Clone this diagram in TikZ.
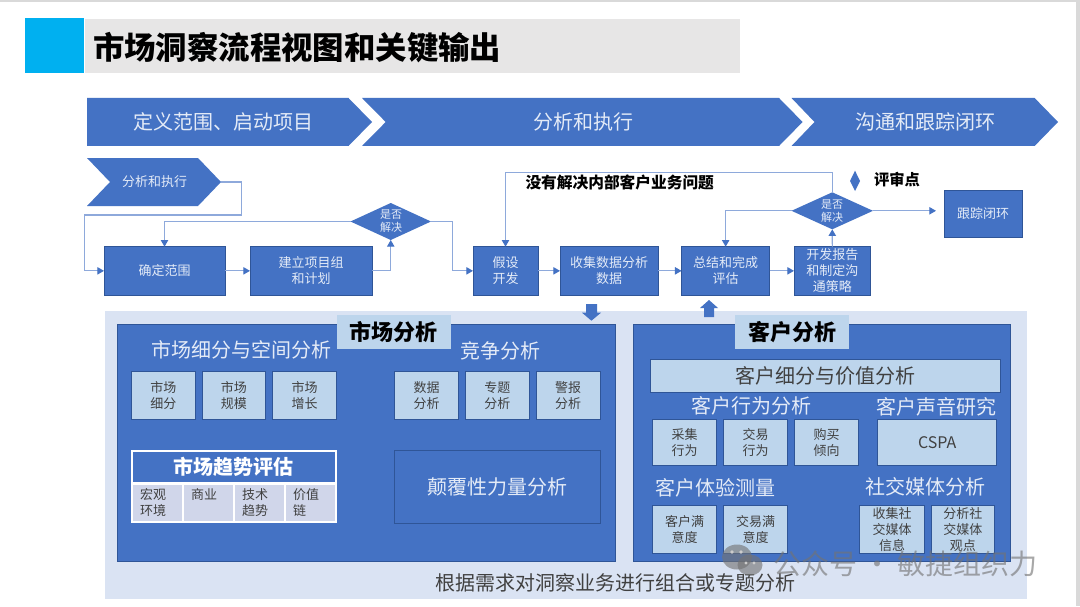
\documentclass[tikz,border=0pt]{standalone}
\usepackage{fontspec}
\setmainfont{Noto Sans CJK SC}
\usetikzlibrary{shapes.geometric,arrows.meta}
\definecolor{mainblue}{HTML}{4472C4}
\definecolor{edgeblue}{HTML}{2F5597}
\definecolor{linkblue}{HTML}{8EA9DB}
\definecolor{paleblue}{HTML}{BDD5EC}
\definecolor{panelbg}{HTML}{DAE3F3}
\definecolor{cellfill}{HTML}{D0D6EA}
\definecolor{softwhite}{HTML}{E4EBF7}
\definecolor{darktext}{HTML}{404040}
\definecolor{skyfill}{HTML}{00B0F0}
\definecolor{titlegray}{HTML}{E7E6E6}
\newcommand{\fsz}[2]{\fontsize{\the\dimexpr #1pt*3/4\relax}{\the\dimexpr #2pt*3/4\relax}\selectfont}
\newcommand{\bx}[7]{%
  \pgfmathsetmacro\bxw{(#4-#2)*0.75}%
  \pgfmathsetmacro\bxh{(#5-#3)*0.75}%
  \node[#6,minimum width=\bxw pt,minimum height=\bxh pt] (#1) at ({(#2+#4)/2},{(#3+#5)/2}) {#7};}
\tikzset{
  x=0.75pt,y=-0.75pt,
  base/.style={inner sep=0pt,outer sep=0pt,align=center},
  flowbox/.style={base,draw=edgeblue,line width=0.65pt,fill=mainblue,text=softwhite,font=\fsz{13}{16}},
  lightbox/.style={base,draw=edgeblue,line width=0.65pt,fill=paleblue,text=darktext,font=\fsz{13}{16.3}},
  tagbox/.style={base,fill=paleblue,text=black,font=\bfseries\fsz{22}{24}},
  heading/.style={base,text=softwhite,font=\fsz{20}{22}},
  banner/.style={base,text=softwhite,font=\fsz{20}{22}},
  celltext/.style={base,text=darktext,font=\fsz{13}{16},align=left,anchor=west},
  decitext/.style={base,text=softwhite,font=\fsz{11}{13}},
  deci/.style={base,diamond,aspect=2.17,fill=mainblue,draw=none},
  conn/.style={draw=linkblue,line width=0.9pt},
  arr/.style={conn,-{Triangle[width=5.5pt,length=5pt,color=mainblue]}},
  chev/.style={fill=mainblue,draw=none},
}
\begin{document}
\begin{tikzpicture}
\useasboundingbox (0,0) rectangle (1080,606);
\fill[white] (0,0) rectangle (1080,606);
\fill[black!15] (0,0) rectangle (1080,2);
\fill[black!15] (1076,0) rectangle (1080,606);
% title
\bx{tsq}{24.5}{18.5}{84}{73}{base,fill=skyfill}{}
\bx{tbar}{85}{19}{740}{73}{base,fill=titlegray}{}
\node[base,anchor=west,text=black,font=\bfseries\fsz{31.4}{33}] (title) at (93,47.5) {市场洞察流程视图和关键输出};
% phase chevrons
\fill[chev] (87,98) -- (348.5,98) -- (372,122) -- (348.5,146) -- (87,146) -- cycle;
\fill[chev] (362,98) -- (779,98) -- (802.6,122) -- (779,146) -- (362,146) -- (385.7,122) -- cycle;
\fill[chev] (791.5,98) -- (1034.6,98) -- (1058,122) -- (1034.6,146) -- (791.5,146) -- (814.5,122) -- cycle;
\node[banner] (p1) at (223.5,122) {定义范围、启动项目};
\node[banner] (p2) at (583,122) {分析和执行};
\node[banner] (p3) at (925,122) {沟通和跟踪闭环};
% small chevron
\fill[chev] (87,158) -- (198,158) -- (221,182) -- (198,206) -- (87,206) -- (110,182) -- cycle;
\node[base,text=softwhite,font=\fsz{13}{16}] (sc) at (154.5,182) {分析和执行};
\coordinate (chevtip) at (221,182);
% flow boxes
\bx{a}{104}{246.7}{225}{295}{flowbox}{确定范围}
\bx{b}{250}{246.7}{372}{295}{flowbox}{建立项目组\\和计划}
\bx{c}{473}{246.7}{538}{295}{flowbox}{假设\\开发}
\bx{d}{560}{246.7}{658.3}{295}{flowbox}{收集数据分析\\数据}
\bx{e}{681.6}{246.7}{769.7}{295}{flowbox}{总结和完成\\评估}
\bx{f}{794}{246.7}{870.7}{295}{flowbox}{开发报告\\和制定沟\\通策略}
\bx{g}{944}{190}{1022}{237.7}{flowbox}{跟踪闭环}
% diamonds
\bx{d1}{350.5}{203}{431}{240}{deci}{}
\node[decitext] (d1t) at (391,221.5) {是否\\解决};
\bx{d2}{791.5}{192.3}{873}{229.3}{deci}{}
\node[decitext] (d2t) at (832.2,210.8) {是否\\解决};
% review key
\fill[mainblue] (855,170.7) -- (860,181) -- (855,191) -- (850,181) -- cycle;
\node[base,anchor=west,text=black,font=\bfseries\fsz{15.3}{17}] (rev) at (874,180) {评审点};
\node[base,anchor=west,text=black,font=\bfseries\fsz{15.7}{17}] (note) at (525.5,182) {没有解决内部客户业务问题};
% connectors
\coordinate (r1) at (241.7,215);
\coordinate (r2) at (84.4,215);
\coordinate (r3) at (452.5,240);
\coordinate (r4) at (505.5,172.7);
\draw[arr] (chevtip) -| (r1) -- (r2) |- (a.west);
\draw[arr] (a.east) -- (b.west);
\draw[arr] (b.east) -| (d1.south);
\draw[arr] (d1.west) -| (a.north);
\draw[arr] (d1.east) -| (r3) |- (c.west);
\draw[arr] (c.east) -- (d.west);
\draw[arr] (d.east) -- (e.west);
\draw[arr] (e.east) -- (f.west);
\draw[arr] (f.north) -- (d2.south);
\draw[arr] (d2.west) -| (e.north);
\draw[arr] (d2.north) |- (r4) -- (c.north);
\draw[arr,shorten >=6pt] (d2.east) -- (d2.east -| g.west);
% analysis background
\bx{bg}{104.7}{311}{1026.7}{598.7}{base,fill=panelbg}{}
% block arrows
\fill[mainblue] (586,304) -- (597,304) -- (597,312.7) -- (601,312.7) -- (591.4,320.7) -- (582,312.7) -- (586,312.7) -- cycle;
\fill[mainblue] (704,317) -- (714,317) -- (714,308) -- (718,308) -- (709,300) -- (700,308) -- (704,308) -- cycle;
% left panel
\bx{lp}{117}{324.3}{615.5}{561.7}{base,draw=edgeblue,line width=0.65pt,fill=mainblue}{}
\bx{lt}{336.6}{315}{451}{349}{tagbox}{市场分析}
\node[heading] (h1) at (241,350) {市场细分与空间分析};
\node[heading] (h2) at (500,351) {竞争分析};
\bx{m1}{131.4}{371.7}{195.3}{419}{lightbox}{市场\\细分}
\bx{m2}{202}{371.7}{265.6}{419}{lightbox}{市场\\规模}
\bx{m3}{272.8}{371.7}{336.6}{419}{lightbox}{市场\\增长}
\bx{c1}{394.8}{371.7}{458.4}{419}{lightbox}{数据\\分析}
\bx{c2}{465.4}{371.7}{529.3}{419}{lightbox}{专题\\分析}
\bx{c3}{536.4}{371.7}{600}{419}{lightbox}{警报\\分析}
% trend table
\bx{tb}{131}{450}{336.6}{522.7}{base,fill=white}{}
\bx{th}{133}{452}{334.6}{482}{base,fill=mainblue,text=white,font=\bfseries\fsz{20}{22}}{市场趋势评估}
\fill[cellfill] (133,484.5) rectangle (181.5,521);
\fill[cellfill] (183.5,484.5) rectangle (232.5,521);
\fill[cellfill] (234.5,484.5) rectangle (283.6,521);
\fill[cellfill] (285.6,484.5) rectangle (335,521);
\node[celltext] (t1) at (140,502.7) {宏观\\环境};
\node[celltext] (t2) at (191,494.7) {商业};
\node[celltext] (t3) at (242,502.7) {技术\\趋势};
\node[celltext] (t4) at (293,502.7) {价值\\链};
\bx{dis}{394}{450}{600.7}{523}{base,draw=edgeblue,line width=0.65pt,fill=mainblue,text=softwhite,font=\fsz{20}{22}}{颠覆性力量分析}
% right panel
\bx{rp}{633.7}{324.3}{1010.7}{561.7}{base,draw=edgeblue,line width=0.65pt,fill=mainblue}{}
\bx{rt}{735}{315}{849.3}{349}{tagbox}{客户分析}
\bx{cv}{650.7}{359.3}{1000.3}{392.7}{lightbox,font=\fsz{20}{22}}{客户细分与价值分析}
\node[heading] (h3) at (751,406) {客户行为分析};
\node[heading] (h4) at (936,406.5) {客户声音研究};
\bx{b1}{652.7}{419.3}{716.3}{465.7}{lightbox}{采集\\行为}
\bx{b2}{723.7}{419.3}{787.3}{465.7}{lightbox}{交易\\行为}
\bx{b3}{794.7}{419.3}{858.3}{465.7}{lightbox}{购买\\倾向}
\bx{cs}{877.7}{419.3}{996.7}{465.7}{lightbox,font=\fsz{16}{18}}{CSPA}
\node[heading] (h5) at (715.5,487.5) {客户体验测量};
\node[heading] (h6) at (925,487) {社交媒体分析};
\bx{x1}{652.7}{505.7}{716.3}{553.3}{lightbox}{客户满\\意度}
\bx{x2}{723.7}{505.7}{787.3}{553.3}{lightbox}{交易满\\意度}
\bx{s1}{859.7}{505.7}{924.3}{553.3}{lightbox}{收集社\\交媒体\\信息}
\bx{s2}{931}{505.7}{994.7}{553.3}{lightbox}{分析社\\交媒体\\观点}
% bottom caption
\node[base,text=darktext,font=\fsz{20}{22}] (foot) at (615,583) {根据需求对洞察业务进行组合或专题分析};
% watermark
\begin{scope}[opacity=0.62]
\fill[black!55] (737,557) ellipse (15 and 12.5);
\fill[black!55] (750,565) ellipse (12.5 and 10.5);
\node[base,anchor=west,text=black!55,font=\fsz{28}{30}] (wm) at (773,564) {公众号 · 敏捷组织力};
\end{scope}
\fill[black!20] (732,552) circle (1.8);
\fill[black!20] (741,552) circle (1.8);
\fill[black!20] (746,563) circle (1.6);
\fill[black!20] (754,563) circle (1.6);
\end{tikzpicture}
\end{document}
